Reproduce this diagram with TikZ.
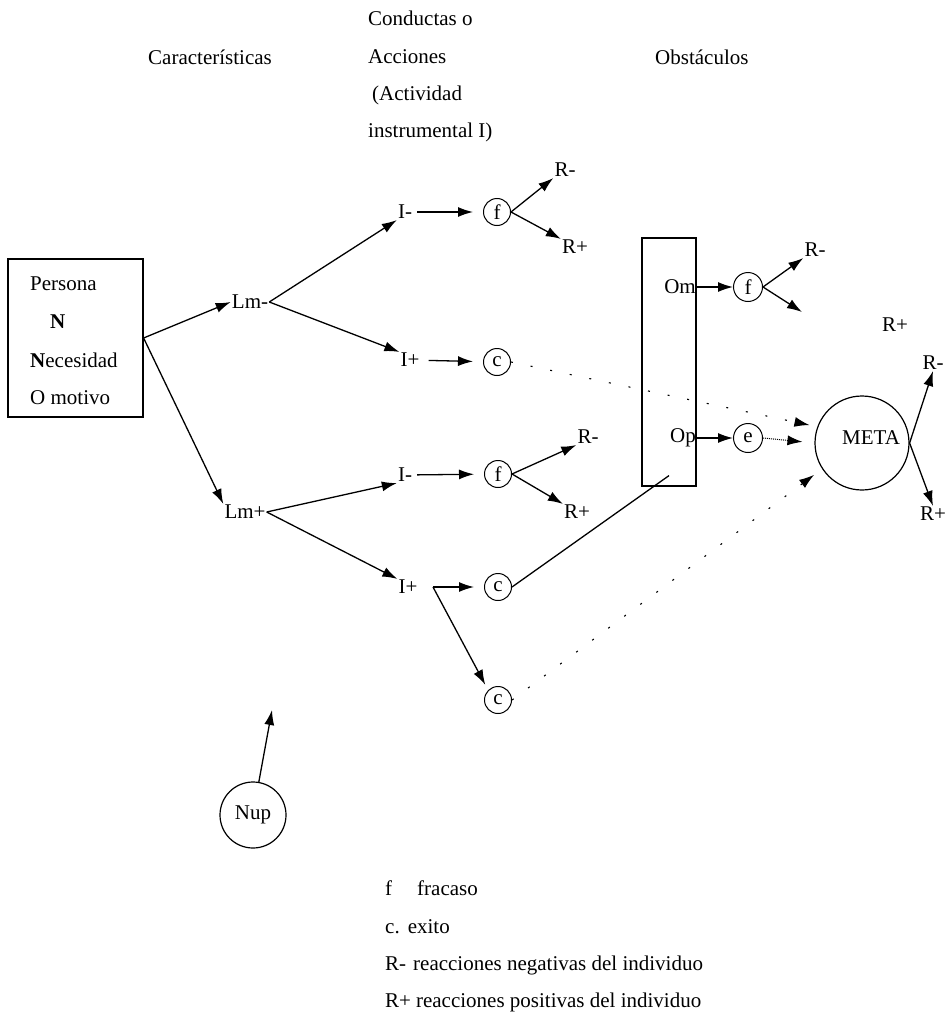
\documentclass[tikz,border=0pt]{standalone}
\usepackage{fontspec}
\setmainfont{Liberation Serif}
\usetikzlibrary{arrows.meta,calc}
\begin{document}
\begin{tikzpicture}[x=1pt,y=-1pt,font=\fontsize{21}{25}\selectfont,
  lbl/.style={inner sep=1pt},
  hdr/.style={anchor=west,inner sep=0pt},
  circ/.style={circle,draw,line width=1pt,minimum size=27pt,inner sep=0pt},
  tip/.style={-{Latex[length=15pt,width=10pt]}},
  arr/.style={line width=1.3pt,tip},
  ln/.style={line width=1.3pt},
  dotarr/.style={line width=1.1pt,dash pattern=on 2pt off 18pt,tip},
  dnsarr/.style={line width=1pt,densely dotted,tip}]
\useasboundingbox (0,0) rectangle (950,1014);
% headers
\node[hdr] (h1) at (368,18) {Conductas o};
\node[hdr] (h2) at (148,57) {Características};
\node[hdr] (h3) at (368,57) {Acciones};
\node[hdr] (h4) at (655,57) {Obstáculos};
\node[hdr] (h5) at (372,95) {(Actividad};
\node[hdr] (h6) at (368,132) {instrumental I)};
% person box
\node[draw,line width=1.2pt,minimum width=135pt,minimum height=158pt,inner sep=0pt] (box) at (75.5,338) {};
\node[hdr] (p1) at (30,284) {Persona};
\node[hdr] (p2) at (50,322) {\textbf{N}};
\node[hdr] (p3) at (30,360) {\textbf{N}ecesidad};
\node[hdr] (p4) at (30,398) {O motivo};
% level nodes
\node[lbl] (Lmm) at (250,302) {Lm-};
\node[lbl] (Lmp) at (245,512) {Lm+};
\node[lbl] (Im1) at (405,212) {I-};
\node[lbl] (Ip1) at (410,360) {I+};
\node[lbl] (Im2) at (405,475) {I-};
\node[lbl] (Ip2) at (408,587) {I+};
\node[circ] (f1) at (497,212) {f};
\node[circ] (c1) at (497,362) {c};
\node[circ] (f2) at (498,474) {f};
\node[circ] (c2) at (498,587) {c};
\node[circ] (c3) at (498,700) {c};
\node[lbl] (Rm1) at (565,170) {R-};
\node[lbl] (Rp1) at (575,247) {R+};
\node[lbl] (Rm2) at (588,437) {R-};
\node[lbl] (Rp2) at (577,512) {R+};
% obstacles
\node[draw,line width=1.2pt,minimum width=54pt,minimum height=248pt,inner sep=0pt] (obst) at (669,362) {};
\node[anchor=east,inner sep=0pt] (Om) at (696,287) {Om};
\node[anchor=east,inner sep=0pt] (Op) at (696,438) {Op};
\node[circ,minimum size=29pt] (f3) at (748,287) {f};
\node[circ,minimum size=29pt] (e1) at (748,438) {e};
\node[lbl] (Rm3) at (815,250) {R-};
\node[lbl] (Rp3) at (895,325) {R+};
\coordinate (t3) at (802,312);
% meta
\node[circle,draw,line width=1.2pt,minimum size=94pt,inner sep=0pt] (META) at (862,443) {};
\node[inner sep=0pt] (metat) at (871,438) {META};
\node[lbl] (Rm4) at (933,363) {R-};
\node[lbl] (Rp4) at (933,514) {R+};
% Nup
\node[circle,draw,line width=1.2pt,minimum size=66pt,inner sep=0pt] (Nup) at (253,815) {Nup};
\coordinate (nupt) at (272,710);
% junction at I+
\coordinate (J) at (433,587);
% connectors
\draw[arr] (box.east) -- (Lmm.west);
\draw[arr] (box.east) -- (Lmp.north west);
\draw[arr] (Lmm.east) -- (Im1.south west);
\draw[arr] (Lmm.east) -- (Ip1.north west);
\draw[arr] (Lmp.east) -- (Im2.south west);
\draw[arr] (Lmp.east) -- (Ip2.north west);
\draw[arr,shorten <=4pt,shorten >=10pt] (Im1) -- (f1);
\draw[arr,shorten <=8pt,shorten >=10pt] (Ip1) -- (c1);
\draw[arr,shorten <=4pt,shorten >=10pt] (Im2) -- (f2);
\draw[arr,shorten >=10pt] (J) -- (c2);
\draw[arr,shorten >=6pt] (J) -- (c3.north west);
\draw[arr] (f1.east) -- (Rm1.south west);
\draw[arr] (f1.east) -- (Rp1.north west);
\draw[arr] (f2.east) -- (Rm2.south west);
\draw[arr] (f2.east) -- (Rp2.north west);
\draw[ln] (c2.east) -- ([yshift=11pt]obst.south);
\draw[dotarr,shorten >=8pt] (c1.east) -- (META.160);
\draw[dotarr,shorten >=10pt] (c3.east) -- (META.213);
\draw[arr] (Om.east) -- (f3.west);
\draw[arr] (f3.east) -- (Rm3.south west);
\draw[arr] (f3.east) -- (t3);
\draw[arr] (Op.east) -- (e1.west);
\draw[dnsarr,shorten >=12pt] (e1.east) -- (META.west);
\draw[arr] (META.east) -- (Rm4.south);
\draw[arr] (META.east) -- (Rp4.north);
\draw[arr] (Nup.80) -- (nupt);
% legend
\node[hdr] (lg1) at (385,888) {f};
\node[hdr] (lg1b) at (417,888) {fracaso};
\node[hdr] (lg2) at (385,927) {c.\hspace{8pt}exito};
\node[hdr] (lg3) at (385,965) {R-\hspace{7pt}reacciones negativas del individuo};
\node[hdr] (lg4) at (385,1002) {R+\hspace{5pt}reacciones positivas del individuo};
\end{tikzpicture}
\end{document}
